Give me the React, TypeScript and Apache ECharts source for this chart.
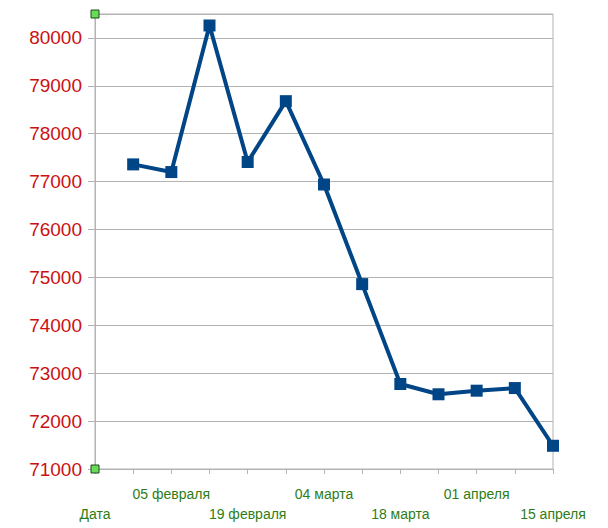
import React, { useEffect, useRef } from "react";
import * as echarts from "echarts";

const categories = [
  "Дата",
  "29 января",
  "05 февраля",
  "12 февраля",
  "19 февраля",
  "26 февраля",
  "04 марта",
  "11 марта",
  "18 марта",
  "25 марта",
  "01 апреля",
  "08 апреля",
  "15 апреля",
];
const values: (number | null)[] = [
  null, 77360, 77200, 80260, 77410, 78680, 76940, 74860, 72775, 72560, 72635, 72690, 71485,
];
const yMin = 71000;
const yMax = 80500;
const yStep = 1000;

export default function App() {
  const ref = useRef<HTMLDivElement>(null);
  useEffect(() => {
    if (!ref.current) return;
    const chart = echarts.init(ref.current, undefined, { renderer: "svg" });
    chart.setOption({
      animation: false,
      backgroundColor: "#ffffff",
      grid: {
        left: 95,
        right: 55,
        top: 14,
        bottom: 59,
        show: true,
        borderColor: "#b3b3b3",
        borderWidth: 1,
      },
      xAxis: {
        type: "category",
        data: categories,
        boundaryGap: false,
        axisLine: { show: true, lineStyle: { color: "#b3b3b3", width: 1 } },
        axisTick: { show: true, interval: 0, length: 5, lineStyle: { color: "#b3b3b3" } },
        splitLine: { show: false },
        axisLabel: {
          interval: 1,
          margin: 15,
          color: "#2e7d17",
          fontFamily: "Liberation Sans",
          fontSize: 14,
          lineHeight: 20,
          formatter: (v: string, i: number) => (i % 4 === 0 ? "\n" + v : v),
        },
      },
      yAxis: {
        type: "value",
        min: yMin,
        max: yMax,
        interval: yStep,
        axisLine: { show: true, lineStyle: { color: "#b3b3b3", width: 1 } },
        axisTick: { show: true, length: 7, lineStyle: { color: "#b3b3b3" } },
        splitLine: { show: true, lineStyle: { color: "#b3b3b3", width: 1 } },
        axisLabel: {
          showMaxLabel: false,
          margin: 13,
          color: "#cc1111",
          fontFamily: "Liberation Sans",
          fontSize: 19,
          formatter: (v: number) => String(v),
        },
      },
      series: [
        {
          type: "line",
          data: values,
          connectNulls: false,
          symbol: "rect",
          symbolSize: 12,
          lineStyle: { color: "#004586", width: 4 },
          itemStyle: { color: "#004586" },
        },
      ],
      graphic: [
        {
          type: "rect",
          x: 91,
          y: 10,
          shape: { width: 8, height: 8 },
          style: { fill: "#66dd55", stroke: "#224422", lineWidth: 1 },
          z: 100,
        },
        {
          type: "rect",
          x: 91,
          y: 465,
          shape: { width: 8, height: 8 },
          style: { fill: "#66dd55", stroke: "#224422", lineWidth: 1 },
          z: 100,
        },
      ],
    });
    return () => chart.dispose();
  }, []);
  return (
    <div
      ref={ref}
      style={{ position: "fixed", left: 0, top: 0, width: 608, height: 528 }}
    />
  );
}
